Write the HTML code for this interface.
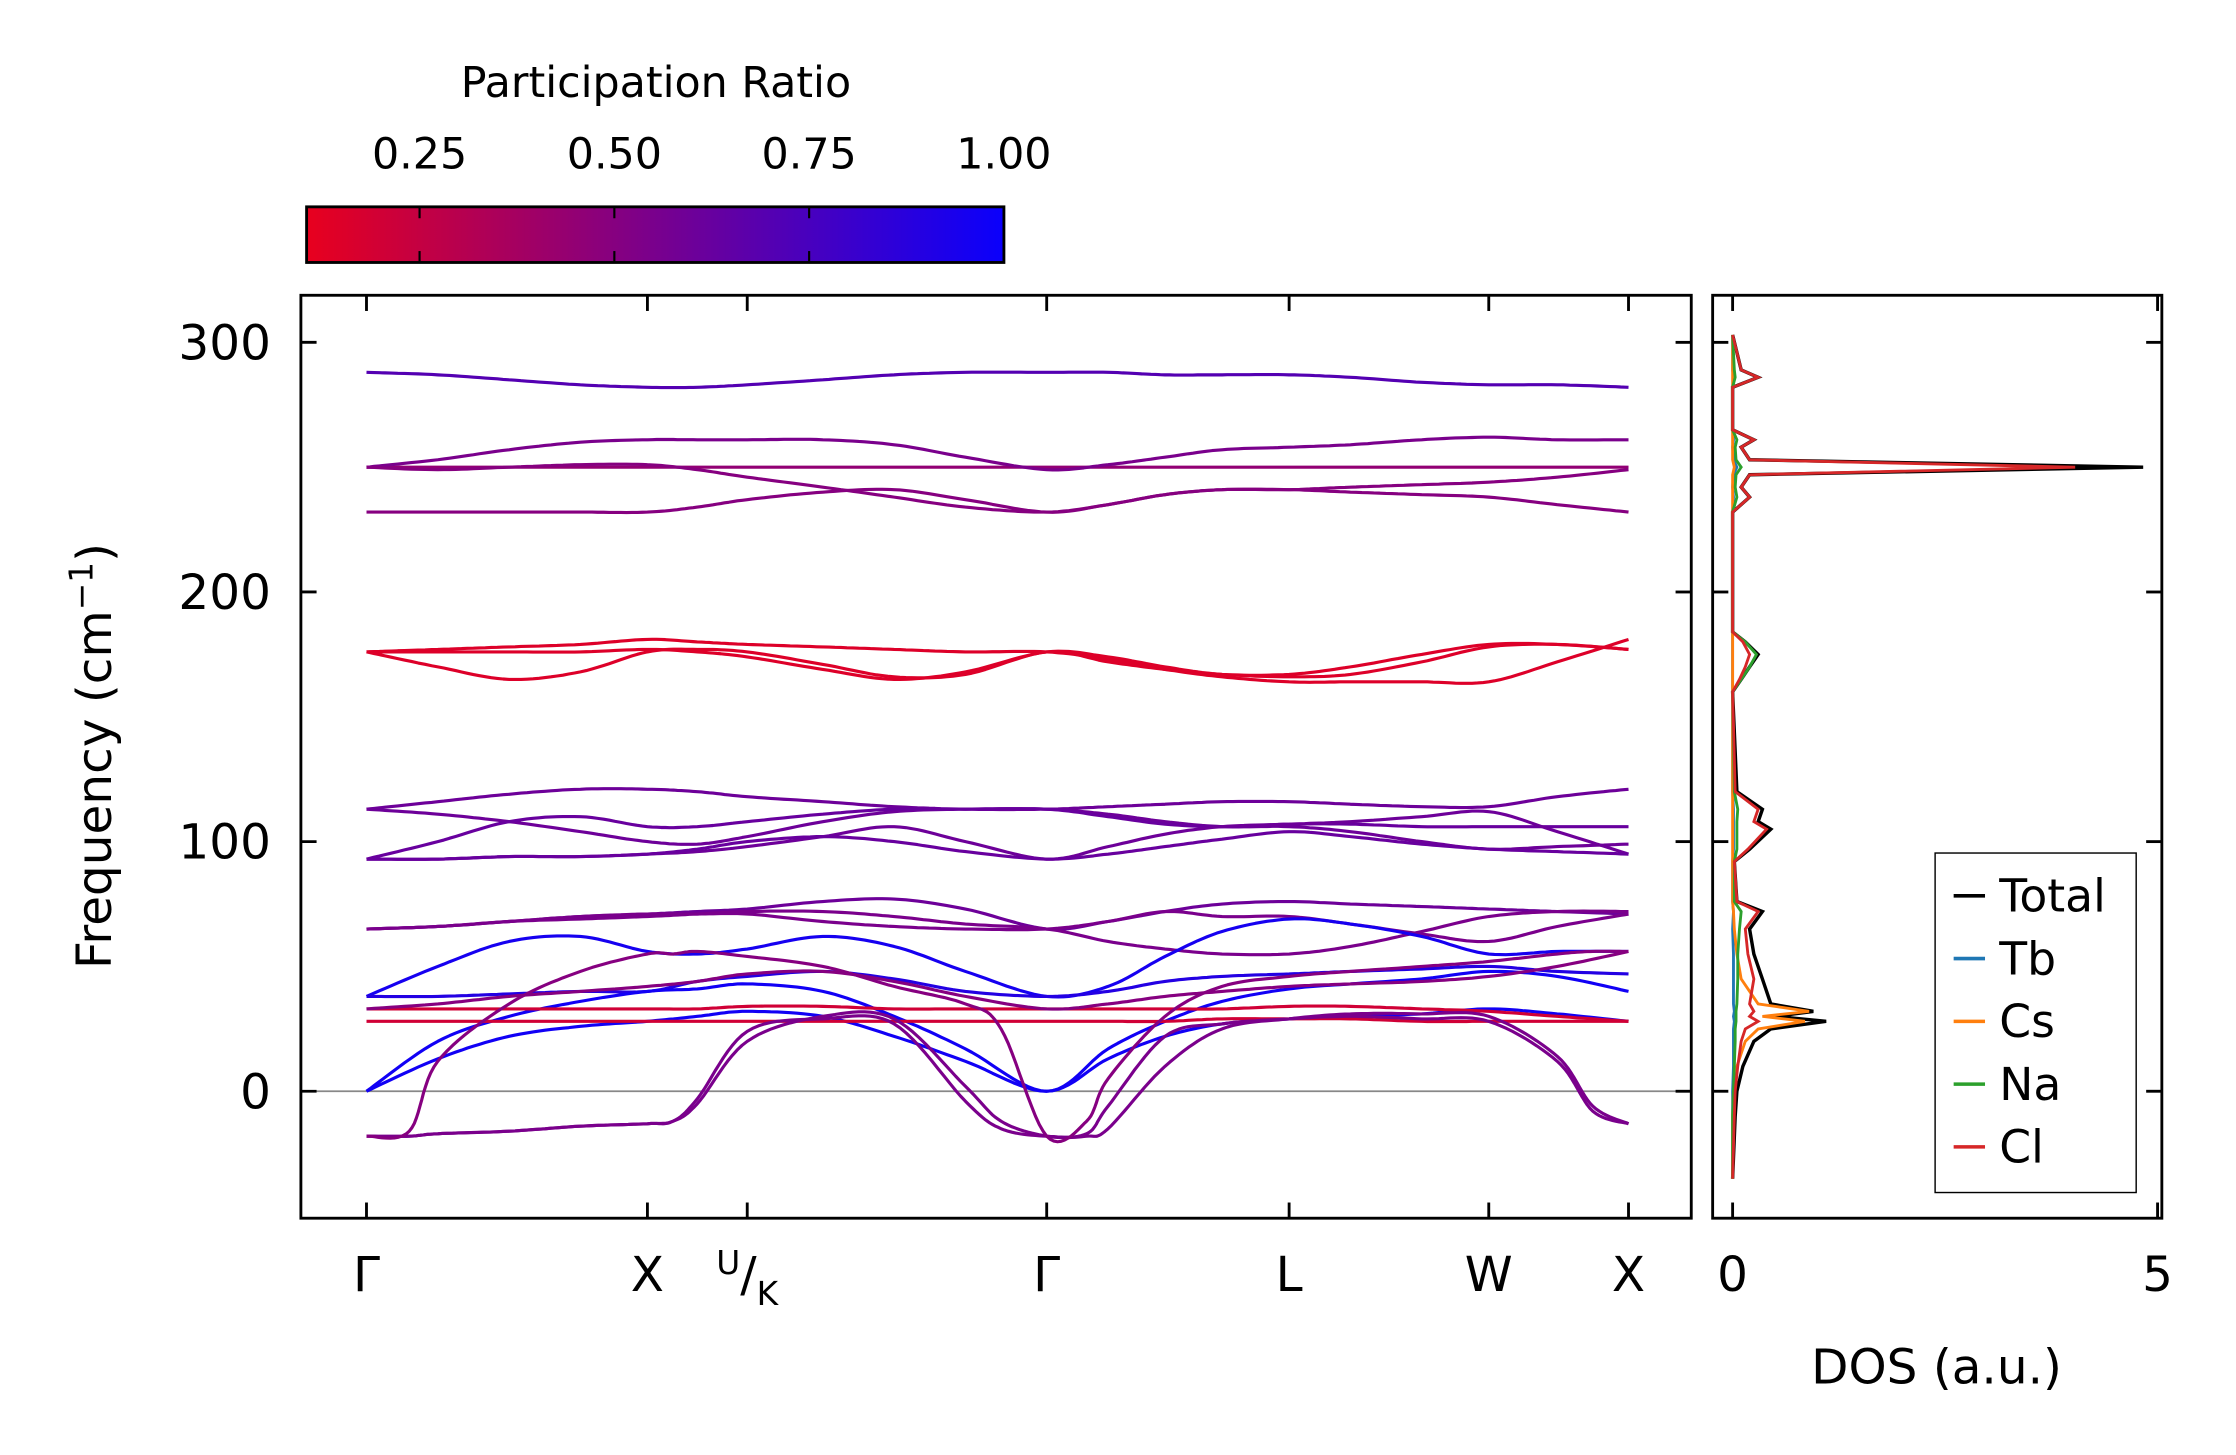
<!DOCTYPE html>
<html><head><meta charset="utf-8"><style>
html,body{margin:0;padding:0;background:#fff}
svg{display:block}
text{font-family:"DejaVu Sans","Liberation Sans",sans-serif;fill:#000}
</style></head><body>
<svg id="fig" width="2236" height="1455" viewBox="0 0 1568 1020" preserveAspectRatio="none" xmlns="http://www.w3.org/2000/svg">
<defs>
<linearGradient id="cbg" x1="0" x2="1" y1="0" y2="0">
<stop offset="0" stop-color="rgb(232,0,30)"/><stop offset="1" stop-color="rgb(10,0,252)"/>
</linearGradient>
<clipPath id="mainclip"><rect x="211" y="207" width="975" height="647"/></clipPath>
<clipPath id="dosclip"><rect x="1201" y="207" width="315" height="647"/></clipPath>
</defs>
<g>
<text x="460" y="68" font-size="30" text-anchor="middle">Participation Ratio</text>
<rect x="215" y="145" width="489" height="39" fill="url(#cbg)" stroke="#000" stroke-width="2"/>
<g id="cbticks"></g>
</g>
<g>
<line x1="211" x2="1186" y1="765" y2="765" stroke="#888" stroke-width="1.2"/>
<g id="bands" clip-path="url(#mainclip)"></g>
<rect x="211" y="207" width="975" height="647" fill="none" stroke="#000" stroke-width="2"/>
<g id="mainticks"></g>
<text transform="translate(78,530) rotate(-90)" font-size="34" text-anchor="middle">Frequency (cm<tspan dy="-13" font-size="23">−1</tspan><tspan dy="13">)</tspan></text>
</g>
<g>
<g id="dos" clip-path="url(#dosclip)"></g>
<rect x="1201" y="207" width="315" height="647" fill="none" stroke="#000" stroke-width="2"/>
<g id="dosticks"></g>
<text x="1358" y="970" font-size="34" text-anchor="middle">DOS (a.u.)</text>
<g>
<rect x="1357" y="598" width="141" height="238" fill="#fff" stroke="#000" stroke-width="1"/>
<g id="legend"></g>
</g>
</g>
</svg>
<script>
// ---- data ----
const kDist = [0,50,100,150,197,232,267,320,370,420,477,520,560,600,647,690,740,787,835,885];
const kDistFine = [0,30,50,100,150,197,215,232,267,320,370,420,445,477,505,520,560,600,647,690,740,787,835,860,885];
const kLabelPos = [0,197,267,477,647,787,885];
const kLabels = ["Γ","X","U/K","Γ","L","W","X"];
const yTicks = [0,100,200,300];
const cbTicks = [0.25,0.5,0.75,1.0];
const b01 = [288,287,285,283,282,282,283,285,287,288,288,288,287,287,287,286,284,283,283,282];
const b02 = [250,250,250,250,250,250,250,250,250,250,250,250,250,250,250,250,250,250,250,250];
const b03 = [250,253,257,260,261,261,261,261,259,254,249,251,254,257,258,259,261,262,261,261];
const b04 = [250,249,250,251,251,249,246,242,238,234,232,235,239,241,241,242,243,244,246,249];
const b05 = [232,232,232,232,232,234,237,240,241,237,232,235,239,241,241,240,239,238,235,232];
const b06 = [176,170,165,168,176,177,176,171,166,167,176,172,169,167,166,167,172,178,179,177];
const b07 = [176,177,178,179,181,180,179,178,177,176,176,173,169,166,164,164,164,164,172,181];
const b08 = [176,176,176,176,177,176,174,169,165,168,176,174,170,167,167,170,175,179,179,177];
const b09 = [113,116,119,121,121,120,118,116,114,113,113,114,115,116,116,115,114,114,118,121];
const b10 = [113,111,108,104,100,99,102,108,112,113,113,111,108,106,106,104,100,97,98,99];
const b11 = [93,100,108,110,106,106,108,111,113,113,113,110,107,106,107,107,106,106,106,106];
const b12 = [93,93,94,94,95,96,98,102,106,100,93,98,103,106,107,108,110,112,104,95];
const b13 = [93,93,94,94,95,97,100,102,100,96,93,95,98,101,104,102,99,97,96,95];
const b14 = [65,66,68,70,71,72,73,76,77,73,65,68,72,75,76,75,74,73,72,71];
const b15 = [65,66,68,70,71,71,71,68,66,65,65,68,72,70,70,67,63,60,66,71];
const b16 = [65,66,68,69,70,71,72,72,70,67,65,60,57,55,55,58,64,70,72,72];
const b17 = [38,50,60,62,56,55,57,62,58,48,38,42,54,64,69,67,62,55,56,56];
const b18 = [38,38,39,40,40,44,46,48,45,40,38,40,44,46,47,48,49,50,48,47];
const b19 = [0,13,22,26,28,30,32,30,22,12,0,13,22,27,29,30,31,33,31,28];
const b20 = [0,20,30,36,40,41,43,40,30,17,0,17,28,36,41,43,45,48,46,40];
const b21 = [33,33,33,33,33,33,34,34,33,33,33,33,33,33,34,34,33,32,30,28];
const b22 = [28,28,28,28,28,28,28,28,28,28,28,28,28,29,29,29,28,28,28,28];
const b23 = [33,35,38,40,42,44,47,48,44,38,33,35,38,40,42,43,44,46,50,56];
const b24 = [-18,-18,-17,-16,-14,-13,-12,-3,24,29,27,-4,-15,-18,-17,-6,22,27,29,30,29,28,12,-8,-13];
const b25 = [-18,-18,-17,-16,-14,-13,-12,-5,20,30,29,2,-12,-18,-18,-15,10,25,29,31,31,30,14,-6,-13];
const b26 = [-18,-16,12,35,48,55,55,56,54,50,42,35,25,-18,-12,5,30,42,46,48,50,52,55,56,56];
const bands = [b01,b02,b03,b04,b05,b06,b07,b08,b09,b10,b11,b12,b13,b14,b15,b16,b17,b18,b19,b20,b21,b22,b23,b24,b25,b26];
const bandPR = [0.7,0.45,0.55,0.5,0.5,0.15,0.15,0.15,0.6,0.6,0.62,0.6,0.62,0.6,0.55,0.55,0.95,0.9,0.97,0.97,0.2,0.2,0.5,0.55,0.55,0.5];
const dosFreq = [-35,-10,0,10,20,25,28,30,32,35,45,55,65,72,76,92,97,105,108,113,120,160,165,170,175,180,184,232,238,242,247,250,253,258,261,265,282,286,289,303];
const dosTotal = [0,0.03,0.05,0.12,0.25,0.45,1.1,0.5,0.95,0.45,0.35,0.25,0.2,0.35,0.05,0.02,0.2,0.45,0.3,0.35,0.05,0,0.1,0.2,0.3,0.15,0,0,0.2,0.1,0.2,4.83,0.2,0.1,0.25,0,0,0.3,0.1,0];
const dosTb = [0,0,0,0.01,0.01,0.01,0.02,0.01,0.02,0.01,0.01,0.01,0,0.01,0,0,0.01,0.01,0.01,0.01,0,0,0,0,0,0,0,0,0.01,0,0.01,0.05,0.01,0,0.01,0,0,0.01,0,0];
const dosCs = [0,0,0.01,0.05,0.15,0.3,0.85,0.35,0.9,0.3,0.1,0.05,0.02,0.01,0,0,0,0,0,0,0,0,0,0,0,0,0,0,0,0,0,0.02,0,0,0,0,0,0,0,0];
const dosNa = [0,0,0.01,0.02,0.03,0.03,0.04,0.04,0.04,0.05,0.06,0.06,0.08,0.1,0.02,0.02,0.05,0.05,0.05,0.06,0.02,0,0.1,0.2,0.28,0.15,0,0,0.05,0.03,0.04,0.1,0.04,0.03,0.05,0,0,0.03,0.02,0];
const dosCl = [0,0.02,0.03,0.06,0.1,0.15,0.3,0.2,0.25,0.2,0.25,0.18,0.15,0.3,0.05,0.02,0.18,0.4,0.25,0.3,0.03,0,0.08,0.15,0.2,0.12,0,0,0.2,0.1,0.2,4.03,0.2,0.1,0.25,0,0,0.3,0.1,0];
const dosXTicks = [0,5];
const legendNames = ["Total","Tb","Cs","Na","Cl"];
const legendColors = ["#000","#1f77b4","#ff7f0e","#2ca02c","#d62728"];

// ---- scales ----
const NS="http://www.w3.org/2000/svg";
const xK = k => 257 + k*(1142-257)/885;
const yF = f => 765 - f*1.75;
const xD = d => 1215 + d*(1513-1215)/5;
const xCB = v => 215 + (v-0.105)/(1.0-0.105)*489;
function prColor(p){const t=Math.max(0,Math.min(1,(p-0.105)/0.895));
 return `rgb(${Math.round(232+(10-232)*t)},0,${Math.round(30+(252-30)*t)})`;}
function mk(tag,attrs,parent){const e=document.createElementNS(NS,tag);for(const k in attrs)e.setAttribute(k,attrs[k]);parent.appendChild(e);return e;}
const $=id=>document.getElementById(id);

cbTicks.forEach((v,i)=>{const x=xCB(v);
 const t=mk('line',{x1:x,x2:x,y1:145,y2:153,stroke:'#000','stroke-width':1.5},$('cbticks'));
 
 
 const b=mk('line',{x1:x,x2:x,y1:176,y2:184,stroke:'#000','stroke-width':1.5},$('cbticks'));
 
 
 const l=mk('text',{x:x,y:118,'font-size':30,'text-anchor':'middle'},$('cbticks'));
 l.textContent=v.toFixed(2);
 
 
});

function smooth(xs,ys){let pts=[];for(let i=0;i<xs.length-1;i++){
 const x0=xs[Math.max(0,i-1)],y0=ys[Math.max(0,i-1)],x1=xs[i],y1=ys[i],x2=xs[i+1],y2=ys[i+1],x3=xs[Math.min(xs.length-1,i+2)],y3=ys[Math.min(xs.length-1,i+2)];
 for(let s=0;s<12;s++){const t=s/12,t2=t*t,t3=t2*t;
  const f=(a,b,c,d)=>0.5*((2*b)+(-a+c)*t+(2*a-5*b+4*c-d)*t2+(-a+3*b-3*c+d)*t3);
  pts.push([f(x0,x1,x2,x3),f(y0,y1,y2,y3)]);}}
 pts.push([xs[xs.length-1],ys[ys.length-1]]);return pts;}
bands.forEach((b,i)=>{
 const ks = b.length===kDistFine.length ? kDistFine : kDist;
 const pts=smooth(ks.map(xK),b.map(yF));
 const p=mk('polyline',{points:pts.map(q=>q[0].toFixed(1)+','+q[1].toFixed(1)).join(' '),fill:'none',stroke:prColor(bandPR[i]),'stroke-width':2.2,'stroke-linejoin':'round'},$('bands'));
 
 
});

const mt=$('mainticks');
yTicks.forEach(v=>{const y=yF(v);
 mk('line',{x1:211,x2:222,y1:y,y2:y,stroke:'#000','stroke-width':2},mt);
 mk('line',{x1:1175,x2:1186,y1:y,y2:y,stroke:'#000','stroke-width':2},mt);
 mk('line',{x1:1201,x2:1212,y1:y,y2:y,stroke:'#000','stroke-width':2},mt);
 mk('line',{x1:1505,x2:1516,y1:y,y2:y,stroke:'#000','stroke-width':2},mt);
 const l=mk('text',{x:190,y:y+12,'font-size':34,'text-anchor':'end'},mt);
 l.textContent=String(v);
 
 
});
kLabelPos.forEach((k,i)=>{const x=xK(k);
 mk('line',{x1:x,x2:x,y1:207,y2:218,stroke:'#000','stroke-width':2},mt);
 mk('line',{x1:x,x2:x,y1:843,y2:854,stroke:'#000','stroke-width':2},mt);
 const l=mk('text',{x:x,y:905,'font-size':34,'text-anchor':'middle'},mt);
 
 
 if(kLabels[i]==="U/K"){l.innerHTML='<tspan font-size="23" dy="-12">U</tspan><tspan font-size="34" dy="12">/</tspan><tspan font-size="23" dy="10">K</tspan>';}
 else l.textContent=kLabels[i];
});

const dg=$('dos');
[[dosTotal,0],[dosTb,1],[dosCs,2],[dosNa,3],[dosCl,4]].forEach(([arr,ci])=>{
 const p=mk('polyline',{points:arr.map((d,j)=>xD(d).toFixed(1)+','+yF(dosFreq[j]).toFixed(1)).join(' '),fill:'none',stroke:legendColors[ci],'stroke-width':ci===0?2.4:2},dg);
 
 
});
const dt=$('dosticks');
dosXTicks.forEach(v=>{const x=xD(v);
 mk('line',{x1:x,x2:x,y1:843,y2:854,stroke:'#000','stroke-width':2},dt);
 mk('line',{x1:x,x2:x,y1:207,y2:218,stroke:'#000','stroke-width':2},dt);
 const l=mk('text',{x:x,y:905,'font-size':34,'text-anchor':'middle'},dt);
 l.textContent=String(v);
 
 
});
legendNames.forEach((n,i)=>{const y=628+i*44;
 const ln=mk('line',{x1:1370,x2:1392,y1:y,y2:y,stroke:legendColors[i],'stroke-width':2.5},$('legend'));
 
 
 const t=mk('text',{x:1402,y:y+11,'font-size':32},$('legend'));
 t.textContent=n;
 
 
});
</script>
</body></html>
